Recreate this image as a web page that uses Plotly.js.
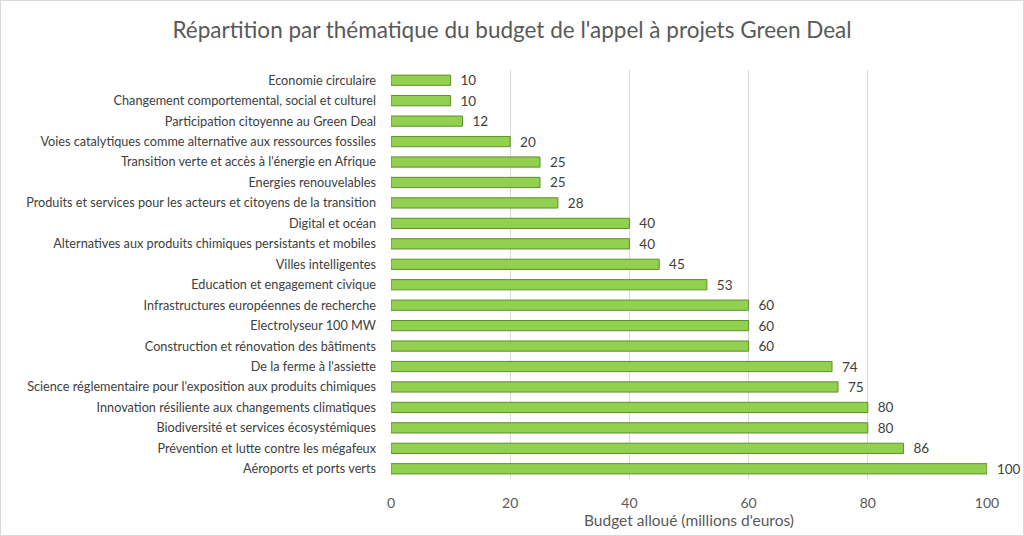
<!DOCTYPE html>
<html>
<head>
<meta charset="utf-8">
<script src="https://cdn.plot.ly/plotly-3.0.1.min.js"></script>
<style>
html,body{margin:0;padding:0;background:#fff;}
#chart{width:1024px;height:536px;box-sizing:border-box;border:1px solid #d9d9d9;}
</style>
</head>
<body>
<div id="chart"></div>
<script>
const categories = [
  "Economie circulaire",
  "Changement comportemental, social et culturel",
  "Participation citoyenne au Green Deal",
  "Voies catalytiques comme alternative aux ressources fossiles",
  "Transition verte et accès à l'énergie en Afrique",
  "Energies renouvelables",
  "Produits et services pour les acteurs et citoyens de la transition",
  "Digital et océan",
  "Alternatives aux produits chimiques persistants et mobiles",
  "Villes intelligentes",
  "Education et engagement civique",
  "Infrastructures européennes de recherche",
  "Electrolyseur 100 MW",
  "Construction et rénovation des bâtiments",
  "De la ferme à l'assiette",
  "Science réglementaire pour l'exposition aux produits chimiques",
  "Innovation résiliente aux changements climatiques",
  "Biodiversité et services écosystémiques",
  "Prévention et lutte contre les mégafeux",
  "Aéroports et ports verts"
];
const budgets = [10, 10, 12, 20, 25, 25, 28, 40, 40, 45, 53, 60, 60, 60, 74, 75, 80, 80, 86, 100];
const xTicks = [0, 20, 40, 60, 80, 100];

const font = "Lato, 'Open Sans', 'Liberation Sans', sans-serif";
const trace = {
  type: "bar",
  orientation: "h",
  y: categories,
  x: budgets,
  width: 0.5,
  marker: {color: "#92d050", line: {color: "#5f8f2a", width: 1}},
  text: budgets.map(v => "\u00a0\u00a0" + v),
  textposition: "outside",
  constraintext: "none",
  cliponaxis: false,
  textfont: {family: font, size: 13.5, color: "#404040"},
  hoverinfo: "x+y"
};
const layout = {
  width: 1022, height: 534,
  margin: {l: 390, r: 36, t: 69, b: 56},
  paper_bgcolor: "#fff",
  plot_bgcolor: "#fff",
  showlegend: false,
  title: {text: "Répartition par thématique du budget de l'appel à projets Green Deal",
    font: {family: font, size: 22.5, color: "#595959"}, x: 0.5, xanchor: "center", y: 0.945, yanchor: "middle"},
  xaxis: {
    range: [0, 100], tickvals: xTicks, ticktext: xTicks.map(String),
    showgrid: true, gridcolor: "#d9d9d9", gridwidth: 1, zeroline: false,
    showline: false, ticks: "",
    ticklabelstandoff: 14,
    tickfont: {family: font, size: 14, color: "#595959"},
    title: {text: "Budget alloué (millions d'euros)", font: {family: font, size: 15.5, color: "#595959"}, standoff: 1}
  },
  yaxis: {
    type: "category", autorange: "reversed",
    showgrid: false, zeroline: false, showline: false, ticks: "",
    ticklabelstandoff: 14,
    tickfont: {family: font, size: 12.7, color: "#404040"}
  },
  bargap: 0.5
};
Plotly.newPlot("chart", [trace], layout, {displayModeBar: false, staticPlot: true});
</script>
</body>
</html>
